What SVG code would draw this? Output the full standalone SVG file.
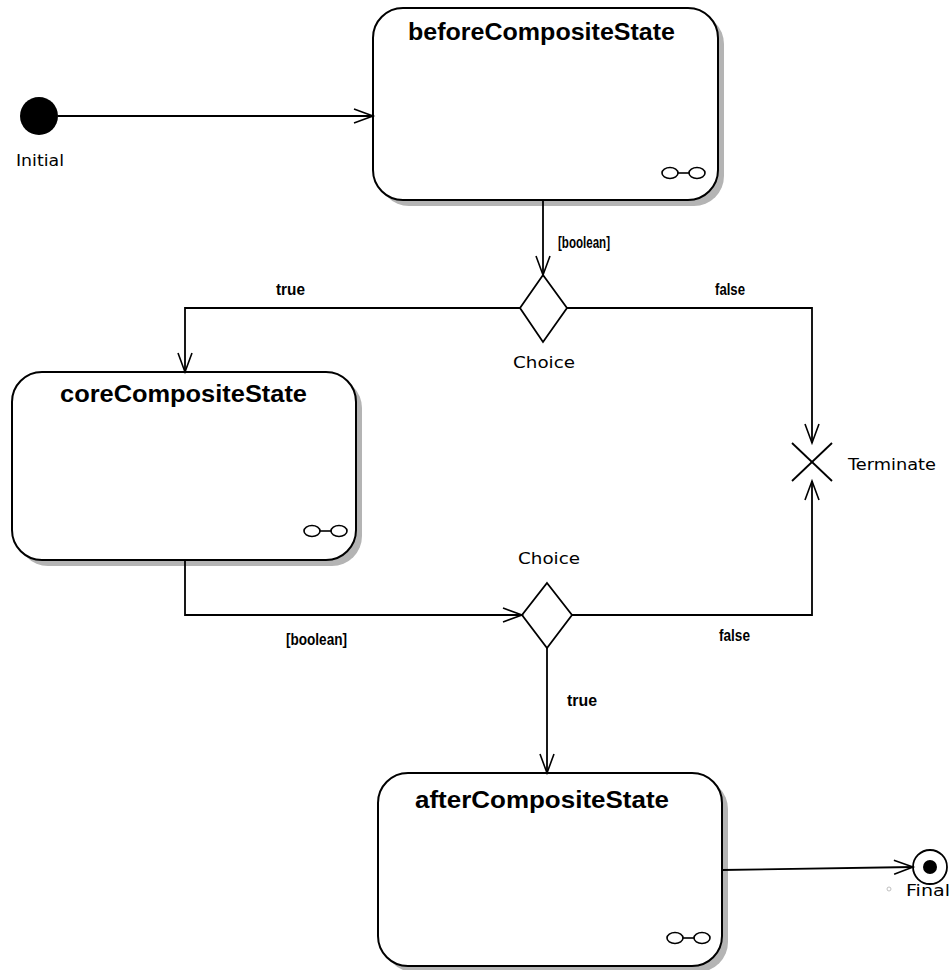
<svg xmlns="http://www.w3.org/2000/svg" width="951" height="970" viewBox="0 0 951 970">
  <style>
    .state { fill: #ffffff; stroke: #000000; stroke-width: 2; }
    .shadow { fill: #b4b4b4; stroke: none; }
    .title { font-family: "Liberation Sans", Arial, sans-serif; font-weight: bold; font-size: 23px; fill: #000000; }
    .label { font-family: "DejaVu Sans", "Liberation Sans", sans-serif; font-size: 15px; fill: #000000; }
    .guard { font-family: "Liberation Sans", Arial, sans-serif; font-weight: bold; font-size: 16px; fill: #000000; }
    .edge { fill: none; stroke: #000000; stroke-width: 1.8; }
    .icon { fill: none; stroke: #000000; stroke-width: 1.6; }
    .pseudo { fill: #ffffff; stroke: #000000; stroke-width: 1.8; }
  </style>
  <defs>
    <marker id="open" markerUnits="userSpaceOnUse" markerWidth="24" markerHeight="18" refX="20" refY="8" orient="auto">
      <path d="M1,1 L20,8 L1,15" fill="none" stroke="#000000" stroke-width="1.6"/>
    </marker>
    <symbol id="composite" overflow="visible">
      <ellipse cx="0" cy="0" rx="8" ry="5.5" class="icon"/>
      <ellipse cx="27" cy="0" rx="8" ry="5.5" class="icon"/>
      <line x1="8" y1="0" x2="19" y2="0" class="icon"/>
    </symbol>
  </defs>

  <!-- initial pseudostate -->
  <g id="initial">
    <circle cx="39" cy="116" r="19" fill="#000000"/>
    <text class="label" x="16" y="166" textLength="48" lengthAdjust="spacingAndGlyphs">Initial</text>
  </g>

  <!-- beforeCompositeState -->
  <g id="beforeCompositeState">
    <rect class="shadow" x="379" y="14" width="345" height="192" rx="30" ry="30"/>
    <rect class="state" x="373" y="8" width="345" height="192" rx="30" ry="30"/>
    <text class="title" x="408" y="40" textLength="267" lengthAdjust="spacingAndGlyphs">beforeCompositeState</text>
    <use href="#composite" x="670" y="173"/>
  </g>

  <!-- first choice -->
  <g id="choice1">
    <polygon class="pseudo" points="543,275 567,308 543,342 520,308"/>
    <text class="label" x="513" y="368" textLength="62" lengthAdjust="spacingAndGlyphs">Choice</text>
  </g>

  <!-- coreCompositeState -->
  <g id="coreCompositeState">
    <rect class="shadow" x="18" y="378" width="344" height="188" rx="30" ry="30"/>
    <rect class="state" x="12" y="372" width="344" height="188" rx="30" ry="30"/>
    <text class="title" x="60" y="402" textLength="247" lengthAdjust="spacingAndGlyphs">coreCompositeState</text>
    <use href="#composite" x="312" y="531"/>
  </g>

  <!-- terminate -->
  <g id="terminate">
    <line x1="792" y1="443" x2="832" y2="481" stroke="#000000" stroke-width="1.8"/>
    <line x1="832" y1="443" x2="792" y2="481" stroke="#000000" stroke-width="1.8"/>
    <text class="label" x="848" y="470" textLength="88" lengthAdjust="spacingAndGlyphs">Terminate</text>
  </g>

  <!-- second choice -->
  <g id="choice2">
    <polygon class="pseudo" points="547,583 572,615 547,648 522,615"/>
    <text class="label" x="518" y="564" textLength="62" lengthAdjust="spacingAndGlyphs">Choice</text>
  </g>

  <!-- afterCompositeState -->
  <g id="afterCompositeState">
    <rect class="shadow" x="384" y="779" width="344" height="193" rx="30" ry="30"/>
    <rect class="state" x="378" y="773" width="344" height="193" rx="30" ry="30"/>
    <text class="title" x="415" y="808" textLength="254" lengthAdjust="spacingAndGlyphs">afterCompositeState</text>
    <use href="#composite" x="675" y="938"/>
  </g>

  <!-- final state -->
  <g id="final">
    <circle cx="930" cy="867" r="17" fill="#ffffff" stroke="#000000" stroke-width="1.8"/>
    <circle cx="930" cy="867" r="7" fill="#000000"/>
    <circle cx="889" cy="889" r="2" fill="none" stroke="#c0c0c0" stroke-width="1"/>
    <text class="label" x="906" y="896" textLength="44" lengthAdjust="spacingAndGlyphs">Final</text>
  </g>

  <!-- transitions -->
  <g id="connectors">
    <line class="edge" x1="58" y1="116" x2="373" y2="116" marker-end="url(#open)"/>
    <line class="edge" x1="543" y1="200" x2="543" y2="275" marker-end="url(#open)"/>
    <text class="guard" x="558" y="248" textLength="52" lengthAdjust="spacingAndGlyphs">[boolean]</text>
    <polyline class="edge" points="520,308 185,308 185,372" marker-end="url(#open)"/>
    <text class="guard" x="276" y="295" textLength="29" lengthAdjust="spacingAndGlyphs">true</text>
    <polyline class="edge" points="567,308 812,308 812,443" marker-end="url(#open)"/>
    <text class="guard" x="715" y="295" textLength="30" lengthAdjust="spacingAndGlyphs">false</text>
    <polyline class="edge" points="185,560 185,615 522,615" marker-end="url(#open)"/>
    <text class="guard" x="286" y="645" textLength="61" lengthAdjust="spacingAndGlyphs">[boolean]</text>
    <polyline class="edge" points="572,615 812,615 812,481" marker-end="url(#open)"/>
    <text class="guard" x="719" y="641" textLength="31" lengthAdjust="spacingAndGlyphs">false</text>
    <line class="edge" x1="547" y1="648" x2="547" y2="773" marker-end="url(#open)"/>
    <text class="guard" x="567" y="706" textLength="30" lengthAdjust="spacingAndGlyphs">true</text>
    <line class="edge" x1="722" y1="870" x2="913" y2="867" marker-end="url(#open)"/>
  </g>
</svg>
